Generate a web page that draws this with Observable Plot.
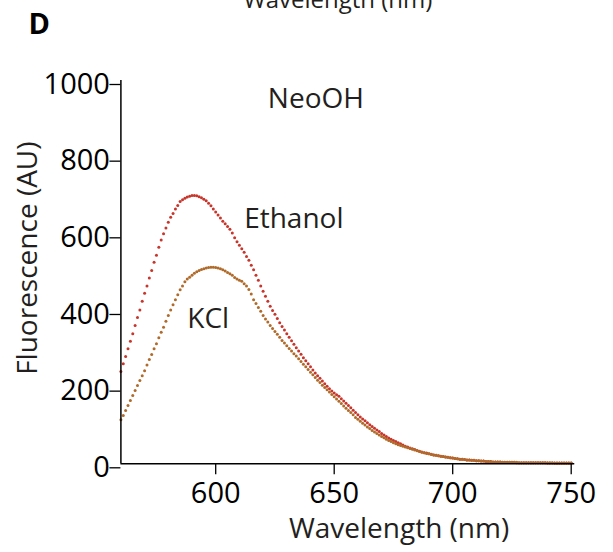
<!DOCTYPE html>
<html>
<head>
<meta charset="utf-8">
<script src="https://cdn.jsdelivr.net/npm/d3@7"></script>
<script src="https://cdn.jsdelivr.net/npm/@observablehq/plot@0.6"></script>
<style>
  body { margin: 0; background: #fff; }
  #chart { position: relative; width: 613px; height: 552px; overflow: hidden; }
  svg { font-family: "Open Sans", sans-serif; }
</style>
</head>
<body>
<div id="chart"></div>
<script>
// Wavelengths 560..750 nm in 1 nm steps
const startNm = 560;
const ethanol = [
  241,261,280,300,320,339,361,382,401,424,   // 560-569
  445,464,485,504,526,544,565,584,600,615,   // 570-579
  630,643,653,665,674,684,689,693,696,698,   // 580-589
  700,700,699,697,694,690,686,680,673,665,   // 590-599
  657,649,641,633,626,619,612,602,590,579,   // 600-609
  570,561,552,541,531,518,506,492,479,464,   // 610-619
  450,437,424,411,400,390,379,368,358,349,   // 620-629
  339,330,321,312,303,294,286,277,269,261,   // 630-639
  253,245,237,230,223,216,209,202,196,190,   // 640-649
  185,180,176,170,164,158,152,146,140,134,   // 650-659
  128,122,117,112,107,102,97,93,88,84,       // 660-669
  79,75,71,67,64,61,58,55,52,49,             // 670-679
  46,44,41,39,37,35,33,31,29,28,             // 680-689
  26,25,23,22,21,20,19,18,17,16,             // 690-699
  15,14,13,12,12,11,10,10,9,9,               // 700-709
  8,8,7,7,6,6,6,5,5,5,                       // 710-719
  5,4,4,4,4,4,4,3,3,3,                       // 720-729
  3,3,3,3,3,3,3,3,3,3,                       // 730-739
  2,2,2,2,2,2,2,2,2,2,                       // 740-749
  2                                          // 750
];
const kcl = [
  115,126,139,152,165,178,191,204,217,230,   // 560-569
  243,258,272,285,300,313,329,343,356,372,   // 570-579
  387,401,415,428,441,454,464,475,482,487,   // 580-589
  492,497,501,504,507,509,511,512,513,513,   // 590-599
  512,511,509,506,503,499,496,492,486,482,   // 600-609
  479,476,470,464,455,443,428,418,408,398,   // 610-619
  387,378,370,361,353,345,338,330,322,315,   // 620-629
  308,301,294,287,281,274,267,260,253,246,   // 630-639
  239,232,225,218,212,205,199,193,187,181,   // 640-649
  175,169,163,157,151,145,139,134,128,121,   // 650-659
  116,111,106,101,96,92,87,83,79,75,         // 660-669
  71,68,64,61,58,55,52,50,48,46,             // 670-679
  44,42,40,38,36,34,32,30,29,27,             // 680-689
  26,24,23,22,21,20,19,18,17,16,             // 690-699
  15,14,13,12,12,11,10,10,9,9,               // 700-709
  8,8,7,7,6,6,6,5,5,5,                       // 710-719
  5,4,4,4,4,4,4,4,3,3,                       // 720-729
  3,3,3,3,3,3,3,3,3,3,                       // 730-739
  3,3,3,2,2,2,2,2,2,2,                       // 740-749
  2                                          // 750
];
const xTicks = [600, 650, 700, 750];
const yTicks = [0, 200, 400, 600, 800, 1000];
const labels = [
  {text: "NeoOH", x: 622, y: 929},
  {text: "Ethanol", x: 612, y: 614},
  {text: "KCl", x: 588, y: 353}
];

const rows = [];
ethanol.forEach((v, i) => rows.push({nm: startNm + i, value: v, series: "Ethanol"}));
kcl.forEach((v, i) => rows.push({nm: startNm + i, value: v, series: "KCl"}));

const colors = {Ethanol: "#c8352b", KCl: "#b06a2a"};

const plot = Plot.plot({
  width: 613,
  height: 552,
  marginLeft: 120.4,
  marginRight: 42.3,
  marginTop: 80,
  marginBottom: 88.7,
  style: {fontFamily: "'Open Sans', sans-serif", background: "#fff"},
  x: {domain: [560, 750]},
  y: {domain: [0, 1000]},
  marks: [
    Plot.dot(rows.filter(d => d.series === "Ethanol"), {x: "nm", y: "value", r: 1.5, fill: colors.Ethanol, stroke: "none"}),
    Plot.dot(rows.filter(d => d.series === "KCl"), {x: "nm", y: "value", r: 1.5, fill: colors.KCl, stroke: "none"}),
    Plot.ruleX([560], {stroke: "#000", strokeWidth: 1.5}),
    Plot.ruleY([0], {stroke: "#000", strokeWidth: 1.5, x1: 560, x2: 751.5}),
    Plot.axisX(xTicks, {tickSize: 11, tickPadding: 8, fontSize: 29, stroke: "#000", strokeWidth: 1.3, fill: "#000", label: null, tickFormat: d => String(d)}),
    Plot.axisY(yTicks, {tickSize: 11, tickPadding: 0, fontSize: 29, stroke: "#000", strokeWidth: 1.3, fill: "#000", label: null, dy: 4, tickFormat: d => String(d)}),
    Plot.text(labels, {x: "x", y: "y", text: "text", fontSize: 28, fill: "#231f20", textAnchor: "start", lineAnchor: "bottom"}),
    Plot.text(["Wavelength (nm)"], {frameAnchor: "bottom", dx: 53, dy: 74, fontSize: 28, fill: "#231f20", textAnchor: "middle", lineAnchor: "bottom"}),
    Plot.text(["Fluorescence (AU)"], {frameAnchor: "left", rotate: -90, dx: -93, dy: -14, fontSize: 28, fill: "#231f20", textAnchor: "middle", lineAnchor: "middle"}),
    Plot.text(["D"], {frameAnchor: "top-left", dx: -92.4, dy: -47, fontSize: 29, fontWeight: "bold", fill: "#000", textAnchor: "start", lineAnchor: "bottom"}),
    Plot.text(["Wavelength (nm)"], {frameAnchor: "top-left", dx: 122.6, dy: -73, fontSize: 24, fill: "#231f20", textAnchor: "start", lineAnchor: "bottom"})
  ]
});
document.getElementById("chart").appendChild(plot);
</script>
</body>
</html>
